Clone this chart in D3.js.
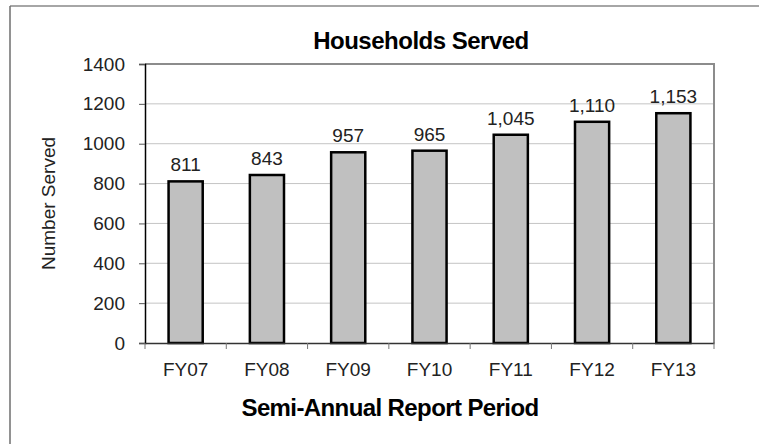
<!DOCTYPE html>
<html>
<head>
<meta charset="utf-8">
<script src="https://cdn.jsdelivr.net/npm/d3@7.9.0/dist/d3.min.js"></script>
<style>
  body { margin: 0; background: #fff; }
  svg { display: block; font-family: "Liberation Sans", Arial, Helvetica, sans-serif; }
</style>
</head>
<body>
<svg id="chart" width="759" height="444"></svg>
<script>
// chart data
const periods = ['FY07', 'FY08', 'FY09', 'FY10', 'FY11', 'FY12', 'FY13'];
const served = [811, 843, 957, 965, 1045, 1110, 1153];
const yTicks = [0, 200, 400, 600, 800, 1000, 1200, 1400];

const svg = d3.select('#chart');
const W = 759, H = 444;
const plot = { left: 145, right: 714, top: 64, bottom: 343 };

// outer frame (only top and left edges are visible)
svg.append('line').attr('x1', 10).attr('x2', W).attr('y1', 6).attr('y2', 6)
  .attr('stroke', '#a6a6a6').attr('stroke-width', 2);
svg.append('line').attr('x1', 10).attr('x2', 10).attr('y1', 6).attr('y2', H)
  .attr('stroke', '#6e6e6e').attr('stroke-width', 1.5);

const x = d3.scaleBand().domain(periods).range([plot.left, plot.right]).paddingInner(0.58).paddingOuter(0.29);
const y = d3.scaleLinear().domain([0, 1400]).range([plot.bottom, plot.top]);

// gridlines
svg.append('g').selectAll('line').data(yTicks.filter(d => d > 0 && d < 1400)).join('line')
  .attr('x1', plot.left).attr('x2', plot.right)
  .attr('y1', d => y(d)).attr('y2', d => y(d))
  .attr('stroke', '#c4c4c4').attr('stroke-width', 1);

// plot border top/right
svg.append('path')
  .attr('d', `M${plot.left},${plot.top}H${plot.right}V${plot.bottom}`)
  .attr('fill', 'none').attr('stroke', '#8c8c8c').attr('stroke-width', 2);

// bars
svg.append('g').selectAll('rect').data(served).join('rect')
  .attr('x', (d, i) => x(periods[i]))
  .attr('y', d => y(d))
  .attr('width', x.bandwidth())
  .attr('height', d => y(0) - y(d))
  .attr('fill', '#c0c0c0')
  .attr('stroke', '#000').attr('stroke-width', 2.5);

// value labels
svg.append('g').selectAll('text').data(served).join('text')
  .attr('x', (d, i) => x(periods[i]) + x.bandwidth() / 2)
  .attr('y', d => y(d) - 10)
  .attr('text-anchor', 'middle')
  .attr('font-size', 19).attr('fill', '#222')
  .text(d => d3.format(',')(d));

// y axis
const yAxis = svg.append('g').attr('transform', `translate(${plot.left},0)`)
  .call(d3.axisLeft(y).tickValues(yTicks).tickSize(6).tickPadding(14).tickFormat(d3.format('d')));
yAxis.select('.domain').attr('stroke', '#000').attr('stroke-width', 1.5);
yAxis.selectAll('.tick line').attr('stroke', '#555');
yAxis.selectAll('.tick text').attr('font-size', 19).attr('fill', '#222').attr('font-family', null);

// x axis
const xAxis = svg.append('g').attr('transform', `translate(0,${plot.bottom})`)
  .call(d3.axisBottom(x).tickSize(0).tickPadding(20));
xAxis.select('.domain').attr('stroke', '#333').attr('stroke-width', 1.5);
xAxis.selectAll('.tick text').attr('font-size', 19).attr('fill', '#222').attr('font-family', null);
// category boundary ticks
xAxis.append('g').selectAll('line').data(d3.range(periods.length + 1)).join('line')
  .attr('x1', i => plot.left + i * x.step()).attr('x2', i => plot.left + i * x.step())
  .attr('y1', 0).attr('y2', 6)
  .attr('stroke', '#777').attr('stroke-width', 1);

// titles
svg.append('text').attr('x', 421).attr('y', 49)
  .attr('text-anchor', 'middle').attr('font-size', 24).attr('font-weight', 'bold')
  .attr('letter-spacing', -0.5).attr('fill', '#000')
  .text('Households Served');

svg.append('text').attr('x', 390).attr('y', 416)
  .attr('text-anchor', 'middle').attr('font-size', 24).attr('font-weight', 'bold')
  .attr('letter-spacing', -0.6).attr('fill', '#000')
  .text('Semi-Annual Report Period');

svg.append('text')
  .attr('transform', `translate(55,${(plot.top + plot.bottom) / 2}) rotate(-90)`)
  .attr('text-anchor', 'middle').attr('font-size', 19).attr('fill', '#222')
  .text('Number Served');
</script>
</body>
</html>
